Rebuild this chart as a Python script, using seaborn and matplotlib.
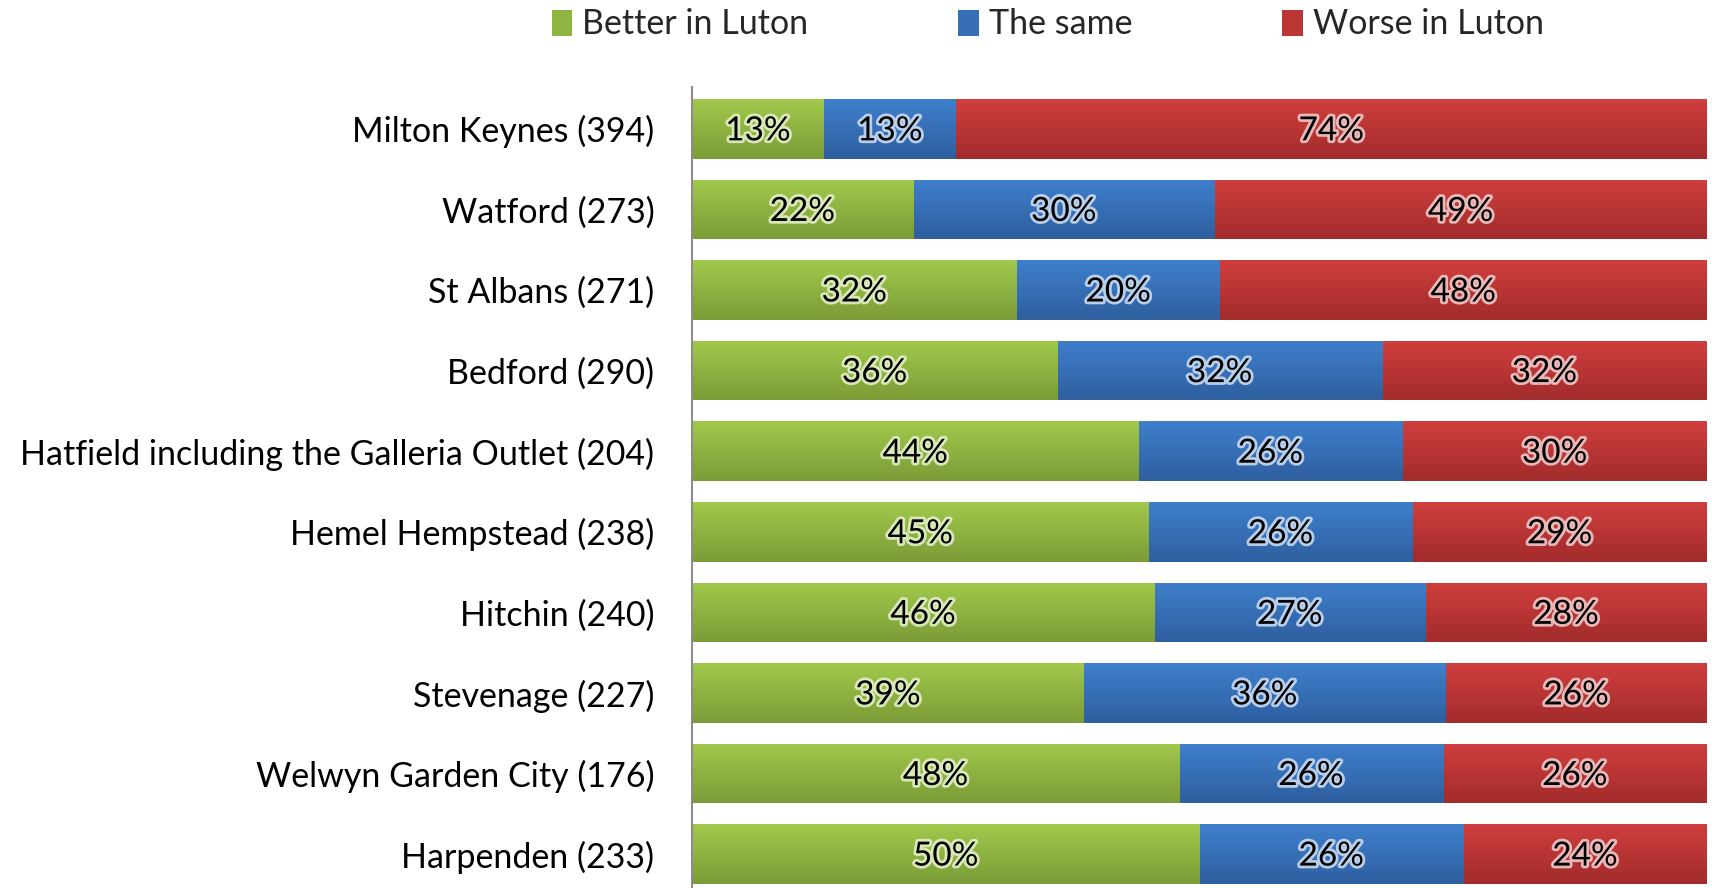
import numpy as np
import pandas as pd
import matplotlib
matplotlib.use("Agg")
import matplotlib.pyplot as plt
import matplotlib.patheffects as pe
from matplotlib.colors import LinearSegmentedColormap
from matplotlib.patches import Patch
import seaborn as sns

categories = ["Milton Keynes (394)", "Watford (273)", "St Albans (271)", "Bedford (290)",
              "Hatfield including the Galleria Outlet (204)", "Hemel Hempstead (238)",
              "Hitchin (240)", "Stevenage (227)", "Welwyn Garden City (176)", "Harpenden (233)"]
better = [13, 22, 32, 36, 44, 45, 46, 39, 48, 50]
same = [13, 30, 20, 32, 26, 26, 27, 36, 26, 26]
worse = [74, 49, 48, 32, 30, 29, 28, 26, 26, 24]
series_names = ["Better in Luton", "The same", "Worse in Luton"]

sns.set_theme(style="white")
plt.rcParams['font.family'] = ['Lato', 'DejaVu Sans']

vals = np.array([better, same, worse], dtype=float)
norm = vals / vals.sum(axis=0) * 100
cum = np.cumsum(norm, axis=0)

top_cols = ["#a1c94c", "#3f7fcc", "#cf3f3e"]
bot_cols = ["#7b9c37", "#2e5f9f", "#a22b2b"]
mid_cols = ["#8fb543", "#376fb6", "#bb3635"]
glow_cols = ["#e6f2cc", "#cfe0f5", "#f3cfcf"]

fig = plt.figure(figsize=(17.12, 8.88), dpi=100)
ax = fig.add_axes([0.4042, 0.0, 0.997 - 0.4042, 0.902])

df = pd.DataFrame({"cat": categories})
for k in [2, 1, 0]:
    df["v"] = cum[k]
    sns.barplot(data=df, y="cat", x="v", orient="h", color=mid_cols[k], width=0.74,
                saturation=1, ax=ax, edgecolor="none", linewidth=0)

# gradient overlay
patches = list(ax.patches)
n = len(categories)
for idx, p in enumerate(patches):
    k = [2, 1, 0][idx // n]
    cmap = LinearSegmentedColormap.from_list("g", [top_cols[k], bot_cols[k]])
    x0, y0 = p.get_x(), p.get_y()
    w, h = p.get_width(), p.get_height()
    grad = np.linspace(0, 1, 64).reshape(-1, 1)
    im = ax.imshow(grad, cmap=cmap, aspect="auto", extent=[x0, x0 + w, y0 + h, y0],
                   zorder=p.get_zorder() + 0.1 * (3 - k), interpolation="bicubic")
    im.set_clip_path(p)

ax.set_xlim(0, 100)
ax.set_ylim(n - 1 + 0.42, -0.52)

# labels
for k in range(3):
    for i in range(n):
        left = cum[k - 1][i] if k > 0 else 0
        ax.text(left + norm[k][i] / 2, i + 0.03, f"{vals[k][i]:.0f}%", ha="center", va="center",
                fontsize=24, color="black", zorder=10,
                path_effects=[pe.withStroke(linewidth=4, foreground=glow_cols[k], alpha=0.85)])

ax.set_xlabel("")
ax.set_ylabel("")
ax.set_xticks([])
ax.tick_params(axis="y", length=0, pad=27, labelsize=24.5, labelcolor="black")
for s in ["top", "right", "bottom"]:
    ax.spines[s].set_visible(False)
ax.spines["left"].set_color("#8c8c8c")
ax.spines["left"].set_linewidth(1.5)

handles = [Patch(facecolor=mid_cols[k], edgecolor="none", label=series_names[k]) for k in range(3)]
fig.legend(handles=handles, loc="upper center", bbox_to_anchor=(0.612, 1.025), ncol=3,
           frameon=False, fontsize=24.5, handlelength=0.6, handleheight=0.8, handletextpad=0.3,
           columnspacing=4.4)

fig.savefig("out.png", dpi=100)
